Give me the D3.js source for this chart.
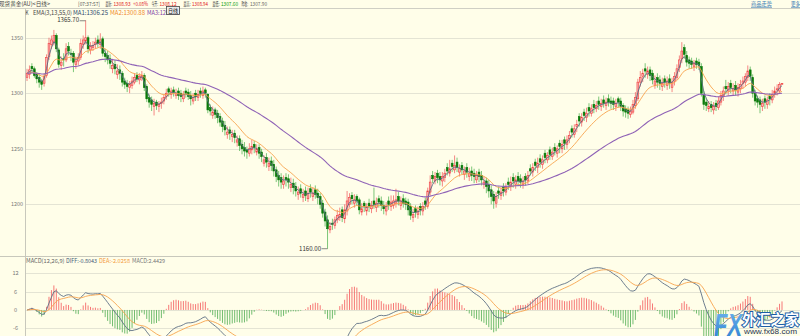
<!DOCTYPE html>
<html><head><meta charset="utf-8">
<script src="https://cdn.jsdelivr.net/npm/d3@7/dist/d3.min.js"></script>
<style>
html,body{margin:0;padding:0;background:#fffee9;overflow:hidden;}
svg{display:block;font-family:"Noto Sans CJK SC","DejaVu Sans",sans-serif;}
</style></head><body>
<svg id="c" width="800" height="336"></svg>
<script>
// ---------- data (daily candles) ----------
const opens = [
1314,1317,1324,1322,1317,1314,1311,1309,1316,1333, 1344,1346,1352,1339,1325,1331,1330,1342,1336,1336,
1326,1329,1332,1344,1347,1350,1339,1341,1344,1348, 1344,1349,1336,1334,1331,1322,1326,1317,1321,1318,
1311,1309,1305,1307,1310,1316,1312,1314,1316,1306, 1296,1294,1288,1292,1288,1291,1293,1297,1304,1299,
1303,1298,1302,1300,1295,1302,1301,1298,1293,1300, 1296,1302,1298,1303,1299,1287,1280,1285,1282,1279,
1275,1271,1263,1267,1261,1264,1256,1259,1254,1251, 1249,1246,1249,1254,1247,1251,1247,1237,1242,1234,
1239,1236,1231,1226,1224,1218,1224,1223,1215,1219, 1216,1209,1214,1206,1212,1205,1214,1207,1213,1210,
1207,1201,1193,1186,1177,1183,1181,1186,1188,1195, 1187,1194,1200,1208,1201,1207,1204,1193,1201,1194,
1201,1196,1203,1197,1205,1203,1199,1194,1203,1198, 1199,1201,1207,1199,1205,1203,1202,1198,1188,1196,
1191,1198,1194,1203,1198,1211,1226,1221,1228,1225, 1221,1224,1233,1228,1237,1231,1238,1229,1235,1227,
1233,1225,1230,1228,1222,1229,1226,1218,1221,1218, 1213,1209,1201,1212,1208,1215,1211,1220,1216,1224,
1218,1225,1223,1218,1225,1221,1232,1229,1238,1233, 1241,1236,1246,1240,1249,1243,1251,1246,1255,1250,
1258,1254,1259,1268,1263,1270,1279,1274,1283,1278, 1287,1282,1290,1286,1293,1288,1294,1289,1295,1293,
1293,1288,1295,1293,1289,1286,1285,1281,1283,1289, 1295,1310,1315,1322,1317,1321,1318,1307,1314,1312,
1306,1313,1307,1313,1305,1311,1314,1323,1331,1341, 1334,1330,1329,1324,1329,1328,1324,1299,1292,1286,
1290,1285,1291,1287,1292,1297,1306,1302,1309,1302, 1307,1301,1304,1309,1310,1314,1321,1314,1300,1295,
1294,1288,1295,1290,1297,1294,1300,1303,1302,1308.12];
const highs = [
1322,1325,1327,1324,1319,1317,1313,1318,1335,1350, 1352,1357,1354,1341,1333,1336,1345,1346,1340,1338,
1333,1336,1349,1352,1365.7,1352,1346,1347,1350,1352, 1354,1351,1340,1338,1335,1331,1330,1326,1325,1320,
1314,1312,1311,1315,1318,1319,1318,1320,1318,1308, 1299,1297,1295,1294,1293,1296,1299,1304,1306,1305,
1306,1304,1305,1303,1302,1305,1304,1302,1300,1303, 1303,1305,1306,1305,1300,1290,1288,1287,1285,1282,
1278,1275,1270,1270,1267,1267,1262,1262,1258,1256, 1252,1255,1258,1257,1254,1254,1250,1244,1246,1242,
1243,1240,1234,1230,1228,1226,1228,1227,1224,1223, 1220,1216,1218,1214,1216,1215,1218,1215,1217,1214,
1210,1204,1196,1190,1184,1187,1189,1195,1197,1198, 1200,1212,1210,1211,1209,1209,1206,1201,1203,1201,
1205,1203,1215,1206,1208,1207,1203,1202,1207,1208, 1208,1214,1211,1207,1209,1206,1205,1201,1196,1199,
1198,1201,1202,1206,1215,1226,1230,1229,1231,1229, 1229,1232,1237,1240,1240,1244,1242,1236,1238,1234,
1237,1233,1234,1232,1230,1232,1230,1225,1224,1222, 1217,1212,1211,1216,1215,1219,1219,1224,1225,1228,
1226,1229,1227,1225,1228,1230,1236,1237,1241,1242, 1245,1244,1249,1247,1252,1251,1255,1253,1258,1258,
1261,1262,1266,1271,1272,1276,1282,1282,1286,1287, 1291,1290,1294,1293,1297,1295,1298,1296,1299,1297,
1296,1295,1297,1296,1291,1289,1288,1288,1294,1301, 1313,1320,1322,1327,1324,1324,1321,1316,1318,1316,
1314,1316,1315,1317,1314,1319,1326,1334,1346,1344, 1338,1333,1332,1330,1332,1331,1327,1302,1296,1293,
1293,1292,1294,1297,1302,1306,1312,1310,1312,1309, 1311,1309,1312,1315,1318,1325,1324,1317,1303,1298,
1297,1295,1298,1297,1300,1303,1306,1308,1310,1308.94];
const lows = [
1311,1313,1318,1314,1309,1305,1303,1306,1314,1330, 1340,1343,1337,1323,1321,1324,1328,1334,1329,1319,
1322,1325,1330,1340,1344,1336,1335,1338,1340,1341, 1340,1333,1328,1326,1322,1318,1317,1313,1312,1306,
1304,1301,1300,1304,1308,1310,1308,1311,1302,1292, 1287,1284,1280,1285,1283,1286,1290,1294,1297,1295,
1297,1295,1294,1292,1292,1296,1294,1289,1290,1293, 1293,1296,1295,1296,1282,1280,1277,1277,1273,1270,
1265,1262,1259,1258,1256,1255,1252,1248,1245,1243, 1241,1243,1245,1246,1244,1241,1238,1234,1233,1230,
1230,1225,1220,1216,1214,1214,1216,1214,1211,1209, 1207,1204,1206,1202,1203,1202,1206,1203,1205,1200,
1196,1188,1180,1160,1174,1177,1178,1183,1185,1184, 1183,1190,1197,1200,1197,1199,1191,1190,1193,1190,
1193,1192,1196,1193,1197,1194,1191,1190,1195,1194, 1196,1197,1199,1195,1197,1195,1190,1186,1184,1188,
1187,1190,1190,1195,1196,1208,1219,1218,1219,1217, 1216,1220,1226,1225,1229,1228,1229,1225,1227,1222,
1224,1221,1221,1219,1219,1220,1217,1214,1210,1206, 1200,1196,1197,1205,1204,1207,1208,1213,1212,1215,
1214,1217,1215,1214,1217,1218,1226,1225,1230,1228, 1233,1232,1237,1237,1240,1240,1244,1242,1246,1246,
1249,1250,1255,1260,1260,1265,1270,1270,1275,1274, 1279,1279,1282,1283,1285,1284,1287,1285,1288,1286,
1285,1284,1287,1284,1279,1278,1277,1278,1281,1286, 1293,1306,1310,1314,1313,1311,1308,1304,1305,1303,
1302,1305,1303,1304,1301,1307,1312,1319,1327,1331, 1324,1322,1322,1320,1322,1321,1297,1285,1284,1283,
1283,1281,1284,1285,1289,1293,1299,1298,1300,1298, 1298,1297,1300,1304,1306,1311,1311,1296,1289,1287,
1282,1284,1286,1286,1289,1291,1296,1298,1300,1307.6];
const closes = [
1318,1321,1322,1316,1313,1310,1308,1315,1332,1345, 1348,1352,1340,1326,1328,1330,1340,1338,1335,1328,
1329,1332,1345,1348,1350,1340,1342,1343,1346,1345, 1348,1336,1333,1330,1327,1325,1322,1320,1318,1310,
1308,1306,1308,1311,1314,1313,1315,1316,1305,1295, 1292,1290,1291,1289,1290,1292,1296,1300,1301,1302,
1301,1300,1298,1297,1299,1300,1297,1295,1296,1297, 1299,1300,1302,1300,1285,1284,1283,1281,1278,1274,
1270,1267,1265,1264,1263,1260,1258,1253,1250,1248, 1247,1250,1252,1251,1250,1246,1243,1240,1238,1237,
1235,1230,1225,1222,1220,1221,1222,1220,1218,1215, 1212,1211,1210,1209,1208,1210,1211,1210,1209,1206,
1200,1192,1185,1178,1180,1182,1186,1190,1191,1188, 1195,1203,1206,1205,1204,1203,1195,1196,1198,1197,
1198,1199,1200,1201,1202,1199,1196,1198,1200,1202, 1203,1204,1203,1203,1201,1200,1195,1190,1191,1193,
1194,1195,1198,1200,1212,1220,1223,1225,1224,1222, 1225,1228,1230,1232,1234,1235,1233,1232,1231,1230,
1229,1228,1226,1225,1226,1225,1222,1220,1216,1212, 1207,1203,1207,1210,1211,1212,1215,1218,1220,1221,
1222,1221,1220,1221,1222,1226,1230,1233,1235,1237, 1238,1240,1242,1244,1245,1247,1248,1250,1252,1254,
1255,1258,1262,1265,1268,1272,1275,1278,1280,1282, 1284,1286,1287,1289,1290,1291,1291,1292,1292,1291,
1290,1291,1292,1288,1284,1283,1282,1284,1290,1296, 1310,1314,1318,1320,1320,1316,1312,1311,1310,1309,
1309,1310,1311,1309,1310,1315,1322,1330,1338,1335, 1328,1327,1326,1327,1326,1325,1300,1290,1289,1288,
1287,1288,1288,1293,1298,1302,1304,1306,1305,1304, 1303,1305,1308,1311,1315,1320,1315,1300,1293,1292,
1290,1291,1292,1294,1295,1299,1302,1304,1307.9,1308.93];

const priceTicks = [1200, 1250, 1300, 1350];
const macdTicks = [12, 6, 0, -6];
const emaPeriods = [3, 13, 55];
const highLabel = "1365.70";
const lowLabel = "1160.00";
const headerItems = [
  ["现货黄金(AU)<日线>", -1, 51, "#444"],
  ["[07:37:57]", 78, 22, "#555"],
  ["最新:", 105.5, 6.5, "#444"], ["1308.93", 113.5, 17, "#e02020"], ["+0.08%", 133, 15, "#e02020"],
  ["今开:", 151.5, 6.5, "#444"], ["1308.12", 159.5, 17, "#e02020"],
  ["最高:", 183.5, 7, "#444"], ["1308.94", 192, 16, "#e02020"],
  ["最低:", 212.5, 7, "#444"], ["1307.60", 221, 17, "#0a9a0a"],
  ["昨收:", 241.5, 6.5, "#444"], ["1307.90", 250, 17, "#666"]
];
const legendItems = [
  ["K", 25.5, 3, "#444"], ["EMA(3,13,55,0)", 33, 39, "#444"],
  ["MA1:1306.25", 73, 35, "#2c4a6c"], ["MA2:1300.88", 110, 35, "#f08a2a"], ["MA3:1296.83", 147, 33, "#7d3fa6"]
];
const macdItems = [
  ["MACD(12,26,9)", 26, 38.5, "#666"], ["DIFF:-0.8043", 66, 31, "#3f5a78"],
  ["DEA:-2.0258", 99, 31, "#f39a3c"], ["MACD:2.4429", 132, 33, "#777"]
];

// ---------- helpers ----------
function ema(arr, n){ const k = 2/(n+1); const out = []; arr.forEach((v,i)=>out.push(i===0 ? v : out[i-1] + k*(v-out[i-1]))); return out; }
const svg = d3.select("#c");
function txt(s, x, yb, w, color, size){
  const t = svg.append("text").attr("x", x).attr("y", yb).attr("fill", color)
    .attr("font-size", size).text(s);
  if (w) t.attr("textLength", w).attr("lengthAdjust", "spacingAndGlyphs");
  return t;
}

// ---------- scales ----------
const N = closes.length;
const x = d3.scaleLinear().domain([0, N-1]).range([27, 782]);
const y = d3.scaleLinear().domain([1200, 1350]).range([204.3, 37.7]);
const ym = d3.scaleLinear().domain([-6, 12]).range([328.3, 273.3]);

const defs = svg.append("defs");
defs.append("clipPath").attr("id","pclip").append("rect").attr("x",25.5).attr("y",9).attr("width",775).attr("height",247);
defs.append("clipPath").attr("id","mclip").append("rect").attr("x",25.5).attr("y",257).attr("width",775).attr("height",79);

svg.append("rect").attr("width",800).attr("height",336).attr("fill","#fffee9");

// grid
svg.append("g").selectAll("line").data(priceTicks).join("line")
  .attr("x1",25).attr("x2",800).attr("y1",d=>Math.round(y(d))+0.5).attr("y2",d=>Math.round(y(d))+0.5)
  .attr("stroke","#e4e4d4").attr("stroke-width",1);
svg.append("g").selectAll("line").data(macdTicks).join("line")
  .attr("x1",25).attr("x2",800).attr("y1",d=>Math.round(ym(d))+0.5).attr("y2",d=>Math.round(ym(d))+0.5)
  .attr("stroke","#e4e4d4").attr("stroke-width",1);

// axis labels
svg.append("g").selectAll("text").data(priceTicks).join("text")
  .attr("x",17).attr("y",d=>y(d)+2).attr("text-anchor","middle").attr("font-size",5.6).attr("fill","#777")
  .attr("textLength",12).attr("lengthAdjust","spacingAndGlyphs").text(d=>d);
svg.append("g").selectAll("text").data(macdTicks).join("text")
  .attr("x",15.5).attr("y",d=>ym(d)+2).attr("text-anchor","middle").attr("font-size",5.6).attr("fill","#777").text(d=>d);

// frame lines
svg.append("line").attr("x1",0).attr("x2",800).attr("y1",8.5).attr("y2",8.5).attr("stroke","#cfcfc4");
svg.append("line").attr("x1",0).attr("x2",800).attr("y1",256.5).attr("y2",256.5).attr("stroke","#c8c8bc");
svg.append("line").attr("x1",25.5).attr("x2",25.5).attr("y1",8.5).attr("y2",336).attr("stroke","#c8c8bc");

// candles
const idx = d3.range(N);
const up = i => closes[i] >= opens[i];
const cg = svg.append("g").attr("clip-path","url(#pclip)");
cg.selectAll("line").data(idx).join("line")
  .attr("x1",i=>x(i)).attr("x2",i=>x(i)).attr("y1",i=>y(highs[i])).attr("y2",i=>y(lows[i]))
  .attr("stroke",i=>up(i)?"#f26a6a":"#5cb85c").attr("stroke-width",0.8);
const bw = 1.8;
cg.selectAll("rect").data(idx).join("rect")
  .attr("x",i=>x(i)-bw/2).attr("width",bw)
  .attr("y",i=>y(Math.max(opens[i],closes[i])))
  .attr("height",i=>Math.max(0.8, Math.abs(y(opens[i])-y(closes[i]))))
  .attr("fill",i=>up(i)?"#f9b4b4":"#0b7a0b")
  .attr("stroke",i=>up(i)?"#f03e3e":"#0b7a0b").attr("stroke-width",0.6);

// EMA lines
const emaColors = ["#5a6b80", "#f7a44e", "#8f62b6"];
emaPeriods.forEach((p,k)=>{
  const e = ema(closes, p);
  cg.append("path").datum(e).attr("fill","none").attr("stroke",emaColors[k]).attr("stroke-width",k===2?1.1:0.9)
    .attr("d", d3.line().x((d,i)=>x(i)).y(d=>y(d)));
});

// high / low annotations
const hi = d3.maxIndex(highs), lo = d3.minIndex(lows);
txt(highLabel, x(hi)-28.5, y(highs[hi])+2.2, 22, "#333", 6);
svg.append("line").attr("x1",x(hi)-6).attr("x2",x(hi)).attr("y1",y(highs[hi])+0.5).attr("y2",y(highs[hi])+0.5).attr("stroke","#555").attr("stroke-width",0.7);
txt(lowLabel, x(lo)-28.5, y(lows[lo])+2, 22, "#333", 6);
svg.append("line").attr("x1",x(lo)-6).attr("x2",x(lo)).attr("y1",y(lows[lo])).attr("y2",y(lows[lo])).attr("stroke","#555").attr("stroke-width",0.7);

// MACD
const e12 = ema(closes,12), e26 = ema(closes,26);
const diff = e12.map((v,i)=>v-e26[i]);
const dea = ema(diff, 9);
const hist = diff.map((v,i)=>2*(v-dea[i]));
const mg = svg.append("g").attr("clip-path","url(#mclip)");
mg.selectAll("line").data(idx).join("line")
  .attr("x1",i=>x(i)).attr("x2",i=>x(i)).attr("y1",ym(0)).attr("y2",i=>ym(hist[i]))
  .attr("stroke",i=>hist[i]>=0?"#f56a6a":"#62b562").attr("stroke-width",0.9);
mg.append("path").datum(diff).attr("fill","none").attr("stroke","#5f7186").attr("stroke-width",0.9)
  .attr("d", d3.line().x((d,i)=>x(i)).y(d=>ym(d)));
mg.append("path").datum(dea).attr("fill","none").attr("stroke","#f7a44e").attr("stroke-width",0.9)
  .attr("d", d3.line().x((d,i)=>x(i)).y(d=>ym(d)));

// header texts
headerItems.forEach(([s,xx,w,c])=>txt(s, xx, 6.3, w, c, 5.6));
legendItems.forEach(([s,xx,w,c])=>txt(s, xx, 15.2, w, c, 5.8));
macdItems.forEach(([s,xx,w,c])=>txt(s, xx, 262.5, w, c, 5.6));

// tooltip tag
svg.append("rect").attr("x",166.5).attr("y",6.5).attr("width",13).attr("height",8).attr("fill","#ececec").attr("stroke","#444").attr("stroke-width",0.8);
txt("日线", 168, 12.8, 10, "#111", 5.6);

// top-right links
txt("商品走势", 751, 6.3, 21, "#3d7db5", 5.6).attr("text-decoration","underline");
txt("更多", 791, 6.3, 9, "#3d7db5", 5.6).attr("text-decoration","underline");

// watermark logo
const grad = defs.append("linearGradient").attr("id","fxg").attr("x1",0).attr("y1",0).attr("x2",0).attr("y2",1);
grad.append("stop").attr("offset","0%").attr("stop-color","#6fb4ee");
grad.append("stop").attr("offset","100%").attr("stop-color","#2a7fd0");
svg.append("text").attr("x",714).attr("y",336).attr("font-size",31).attr("font-weight","bold").attr("font-style","italic")
  .attr("font-family","Liberation Sans, Arial, sans-serif").attr("fill","url(#fxg)")
  .attr("textLength",28).attr("lengthAdjust","spacingAndGlyphs").text("FX");
svg.append("text").attr("x",742).attr("y",325).attr("font-size",15).attr("font-weight","bold")
  .attr("fill","#ffffff").attr("stroke","#1d5ea6").attr("stroke-width",2).attr("paint-order","stroke")
  .attr("textLength",57).attr("lengthAdjust","spacingAndGlyphs").text("外汇之家");
svg.append("text").attr("x",744).attr("y",334).attr("font-size",7).attr("fill","#1f3550")
  .attr("font-family","Liberation Sans, Arial, sans-serif")
  .attr("textLength",53).attr("lengthAdjust","spacingAndGlyphs").text("www.fx68.com");
</script>
</body></html>
